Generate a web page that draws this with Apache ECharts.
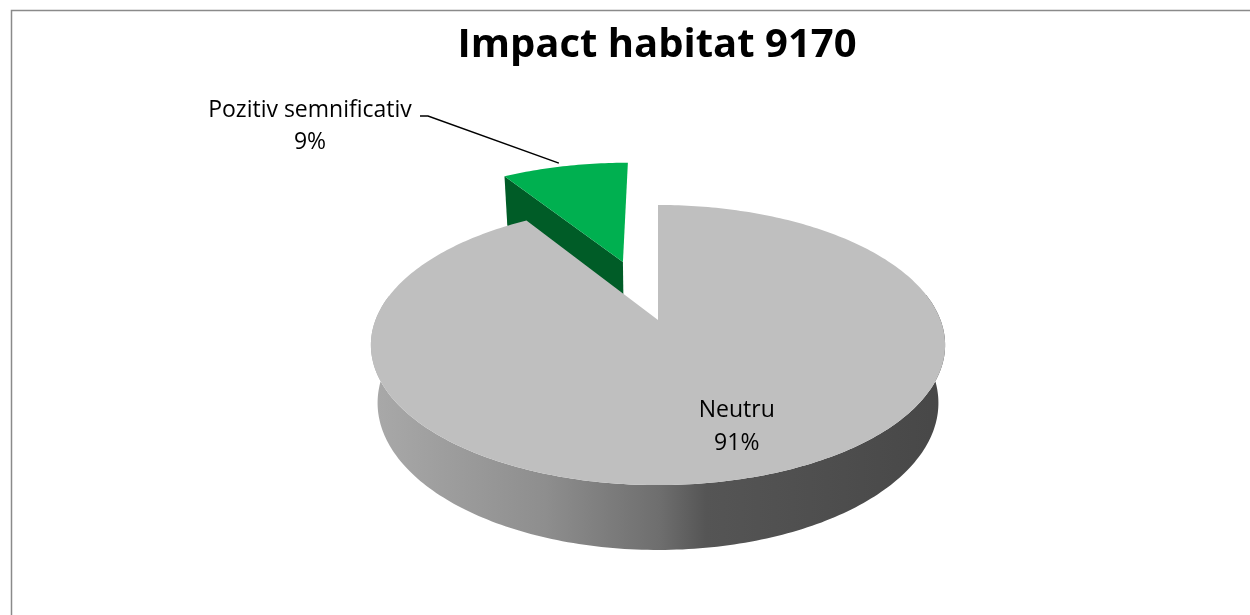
<!DOCTYPE html>
<html>
<head>
<meta charset="utf-8">
<script src="https://cdn.jsdelivr.net/npm/echarts@6/dist/echarts.min.js"></script>
<style>
html,body{margin:0;padding:0;background:#fff;}
#chart{width:1250px;height:615px;}
</style>
</head>
<body>
<div id="chart"></div>
<script>
// ---- data ----
const titleText = 'Impact habitat 9170';
const categories = ['Neutru', 'Pozitiv semnificativ'];
const values = [91, 9];
const percentLabels = ['91%', '9%'];

// ---- styles ----
const topColors = ['#bfbfbf', '#00b050'];
const cutColors = ['#5a5a5a', '#005c27'];
const explodeDist = [0, 0.482];

// projection parameters (tilted, slight perspective)
const S = 282.5, CX = 658, CY = 320;
const SA = 0.48, CA = 0.877, F = 4.91, H = 0.2365;
function proj(px, py, pz) {
  const Y = py * CA + pz * SA;
  const D = pz * CA - py * SA;
  const sc = F / (F + D);
  return [CX + S * px * sc, CY - S * Y * sc];
}
const rad = d => d * Math.PI / 180;

const chart = echarts.init(document.getElementById('chart'), null, {renderer: 'canvas'});
const font = '"Open Sans", "Liberation Sans", sans-serif';

function renderItem(params, api) {
  const idx = params.dataIndex;
  const total = values.reduce((a, b) => a + b, 0);
  let before = 0;
  for (let i = 0; i < idx; i++) before += values[i];
  const v = api.value(0);
  const a1 = before / total * 360;
  const a2 = (before + v) / total * 360;
  const mid = (a1 + a2) / 2;
  const e = explodeDist[idx];
  const ox = Math.sin(rad(mid)) * e, oz = Math.cos(rad(mid)) * e;
  const P = (deg, r, py) => proj(ox + Math.sin(rad(deg)) * r, py, oz + Math.cos(rad(deg)) * r);

  const topArc = [];
  const wallTop = [], wallBot = [];
  const steps = Math.max(4, Math.ceil((a2 - a1) / 1));
  for (let s = 0; s <= steps; s++) {
    const d = a1 + (a2 - a1) * s / steps;
    topArc.push(P(d, 1, 0));
    if (Math.cos(rad(d)) < 0.2) {          // front-facing part of the outer wall
      wallTop.push(P(d, 1, 0));
      wallBot.push(P(d, 1, -H));
    }
  }
  const apexT = P(0, 0, 0), apexB = P(0, 0, -H);
  const rimT1 = P(a1, 1, 0), rimB1 = P(a1, 1, -H);
  const base = Math.round((1 - Math.cos(rad(mid))) * 10) * 5;

  const wallFill = idx === 0
    ? new echarts.graphic.LinearGradient(372, 0, 948, 0, [
        {offset: 0, color: '#a9a9a9'},
        {offset: 0.3, color: '#8e8e8e'},
        {offset: 0.5, color: '#6e6e6e'},
        {offset: 0.58, color: '#555555'},
        {offset: 1, color: '#474747'}
      ], true)
    : cutColors[idx];

  const children = [];
  if (wallTop.length > 1) {
    children.push({type: 'polygon', z2: base + 1, shape: {points: wallTop.concat(wallBot.slice().reverse())},
      style: {fill: wallFill}});
  }
  children.push({type: 'polygon', z2: base + 2, shape: {points: [apexT, rimT1, rimB1, apexB]},
    style: {fill: cutColors[idx]}});
  children.push({type: 'polygon', z2: base + 3, shape: {points: [apexT].concat(topArc)},
    style: {fill: topColors[idx]}});

  if (idx === 0) {
    const lp = P(mid, 0.72, 0);
    children.push({type: 'text', z2: 200, style: {
      x: lp[0] + 14, y: lp[1], text: categories[idx] + '\n' + percentLabels[idx],
      fill: '#000', font: '23px ' + font, align: 'center', verticalAlign: 'middle', lineHeight: 33}});
  } else {
    const rim = P(mid, 1, 0);
    children.push({type: 'polyline', z2: 200, shape: {points: [[420, 116], [428, 116], [rim[0] - 6, rim[1] - 3]]},
      style: {stroke: '#000', lineWidth: 1.5, fill: null}});
    children.push({type: 'text', z2: 200, style: {
      x: 310, y: 126, text: categories[idx] + '\n' + percentLabels[idx],
      fill: '#000', font: '23px ' + font, align: 'center', verticalAlign: 'middle', lineHeight: 32}});
  }
  return {type: 'group', children: children};
}

const option = {
  backgroundColor: '#ffffff',
  animation: false,
  graphic: [{
    type: 'rect', silent: true, z: -1,
    shape: {x: 11.5, y: 10.5, width: 1400, height: 800},
    style: {fill: null, stroke: '#8a8a8a', lineWidth: 1.5}
  }, {
    type: 'text', silent: true, z: 10,
    style: {x: 657, y: 46, text: titleText, fill: '#000', font: 'bold 40px ' + font,
            align: 'center', verticalAlign: 'middle'}
  }],
  series: [{
    type: 'custom',
    coordinateSystem: 'none',
    silent: true,
    data: values.map((v, i) => ({name: categories[i], value: [v]})),
    renderItem: renderItem
  }]
};
chart.setOption(option);
</script>
</body>
</html>
